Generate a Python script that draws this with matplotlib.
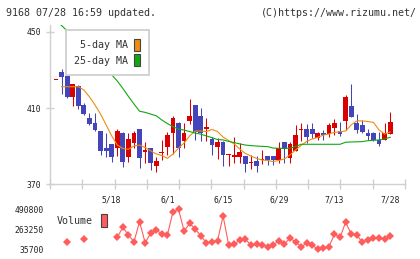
import numpy as np
import matplotlib
matplotlib.use("Agg")
import matplotlib.pyplot as plt
from matplotlib.patches import Patch

# daily candles, 61 trading days (index 0..60)
opens = [424.5, 428.9, 426.8, 415.6, 421.6, 411.6, 404.7, 402.2, 397.9, 389.0,
         391.0, 388.8, 396.8, 384.4, 391.4, 398.8, 386.7, 388.9, 379.6, 386.2,
         389.6, 396.7, 402.3, 392.8, 403.2, 411.6, 405.8, 399.1, 393.9, 389.6,
         392.3, 385.4, 384.2, 384.4, 384.7, 381.0, 382.3, 382.6, 384.7, 384.7,
         382.6, 392.2, 383.5, 387.6, 398.4, 398.8, 398.8, 394.4, 397.0, 396.3,
         399.6, 397.9, 403.3, 411.1, 402.3, 401.1, 397.0, 397.0, 393.2, 393.2,
         396.3]
closes = [424.6, 426.3, 415.6, 422.6, 410.9, 406.7, 401.6, 398.6, 387.5, 387.4,
          384.4, 397.9, 381.7, 393.7, 396.7, 383.5, 388.0, 381.1, 382.3, 386.8,
          395.8, 404.6, 388.8, 397.0, 405.9, 397.5, 396.7, 399.8, 390.5, 392.3,
          385.3, 385.8, 385.5, 387.0, 380.7, 381.4, 379.6, 383.1, 382.6, 382.6,
          388.8, 388.6, 390.9, 395.8, 398.9, 394.5, 396.5, 397.0, 395.6, 401.1,
          402.3, 396.3, 416.0, 405.4, 398.4, 397.5, 395.4, 393.2, 390.9, 396.7,
          402.5]
highs = [424.6, 430.4, 427.0, 422.6, 421.9, 412.8, 407.4, 407.4, 398.0, 396.8,
         391.3, 398.9, 397.2, 396.7, 398.0, 399.0, 392.3, 389.0, 384.4, 393.2,
         397.5, 405.8, 402.5, 402.3, 414.7, 411.8, 410.2, 405.0, 395.0, 394.0,
         392.5, 385.8, 394.7, 391.7, 384.9, 385.5, 384.5, 387.9, 385.0, 385.0,
         392.3, 392.3, 392.3, 401.1, 402.1, 401.5, 402.3, 397.5, 398.4, 401.9,
         404.0, 402.8, 416.8, 422.6, 406.8, 403.7, 398.8, 397.5, 397.5, 401.9,
         407.7]
lows = [424.5, 417.4, 415.4, 411.2, 409.6, 406.2, 400.9, 397.9, 385.3, 384.4,
        381.7, 385.0, 378.7, 381.7, 388.8, 378.3, 380.9, 377.4, 376.5, 382.6,
        385.3, 385.8, 384.4, 388.8, 401.7, 393.2, 392.8, 392.8, 385.3, 383.2,
        379.6, 379.6, 381.0, 380.9, 376.5, 377.8, 376.5, 380.7, 379.8, 379.8,
        380.9, 380.9, 380.9, 387.2, 392.8, 391.6, 394.0, 393.2, 393.2, 394.7,
        395.8, 395.3, 398.4, 405.4, 396.7, 396.7, 393.2, 392.8, 390.0, 393.2,
        396.3]

nan = np.nan
ma5 = [nan, 421.2, 421.2, 421.2, 421.2, 419.5, 415.9, 411.6, 406.8, 401.1,
       395.3, 390.5, 388.7, 388.3, 390.0, 390.5, 389.2, 387.4, 385.8, 385.0,
       383.5, 385.8, 388.9, 391.6, 395.3, 397.9, 397.9, 397.6, 398.7, 397.6,
       394.7, 392.9, 391.1, 388.4, 386.1, 384.7, 383.5, 382.6, 382.4, 381.8,
       382.4, 383.2, 385.3, 387.9, 390.3, 392.4, 393.7, 394.5, 395.8, 396.3,
       397.2, 397.5, 397.9, 401.1, 403.2, 403.2, 402.9, 402.4, 398.4, 396.3,
       397.4]
ma25 = [456.5, 453.4, 450.6, 447.8, 444.9, 442.0, 439.0, 436.0, 433.0, 430.5,
        427.5, 424.2, 420.3, 416.1, 412.1, 408.3, 407.7, 406.8, 405.9, 403.7,
        401.8, 400.2, 398.9, 398.4, 397.6, 396.8, 396.2, 395.3, 394.4, 393.4,
        393.2, 392.4, 391.8, 391.1, 390.5, 390.2, 390.0, 389.8, 389.7, 388.9,
        388.8, 388.8, 388.8, 389.7, 390.9, 390.9, 390.9, 390.9, 390.9, 390.9,
        390.9, 390.9, 392.0, 392.1, 392.2, 392.3, 392.8, 393.0, 393.2, 393.7,
        394.6]
volumes = [nan, nan, 115000, nan, nan, 149000, nan, nan, nan, nan,
           nan, 172000, 286000, 198000, 122000, 350000, 111000, 218000, 255000, 210000,
           198000, 463000, 490000, 244000, 330000, 266000, 187000, 111000, 115000, 134000,
           414000, 85000, 92000, 142000, 149000, 85000, 96000, 85000, 65000, 85000,
           134000, 96000, 161000, 122000, 65000, 104000, 85000, 36000, 47000, 65000,
           206000, 172000, 343000, 210000, 198000, 115000, 142000, 161000, 161000, 149000,
           187000]

date_pos = [10, 20, 30, 40, 50, 60]
date_labels = ["5/18", "6/1", "6/15", "6/29", "7/13", "7/28"]
price_ticks = [370, 410, 450]
vol_ticks = [35700, 263250, 490800]

UP = "#d80000"
DOWN = "#4444bb"
ORANGE = "#f08c10"
GREEN = "#10a810"
VOLC = "#ff5c5c"
GRAY = "#d0d0d0"
FONT = "DejaVu Sans Mono"

W, H = 420, 259
fig = plt.figure(figsize=(W / 100, H / 100), dpi=100)

x0, x1 = 50, 405
xlim = (-1.08, 62.66)

# price panel
ax = fig.add_axes([x0 / W, (H - 184) / H, (x1 - x0) / W, (184 - 25) / H])
ax.set_xlim(*xlim)
ax.set_ylim(370, 370 + 159 / 1.9)

idx = np.arange(len(opens))
o = np.array(opens); c = np.array(closes)
colors = [UP if cc >= oo else DOWN for oo, cc in zip(o, c)]
ax.vlines(idx, lows, highs, colors=colors, linewidth=0.75, zorder=2)
bottoms = np.minimum(o, c)
heights = np.maximum(np.abs(c - o), 0.55)
ax.bar(idx, heights, bottom=bottoms, width=0.85, color=colors, linewidth=0, zorder=3)

ax.plot(idx, ma5, color=ORANGE, lw=0.8, zorder=4)
ax.plot(idx, ma25, color=GREEN, lw=0.8, zorder=4)

for s in ["top", "right"]:
    ax.spines[s].set_visible(False)
for s in ["left", "bottom"]:
    ax.spines[s].set_color(GRAY)
    ax.spines[s].set_linewidth(1)

ax.set_yticks(price_ticks)
ax.tick_params(axis="y", direction="inout", length=6, width=1, color=GRAY,
               labelsize=5.8, labelcolor="#222", pad=3.5)
for t in ax.get_yticklabels():
    t.set_fontfamily(FONT)

ax.set_xticks(np.linspace(xlim[0], xlim[1], 12))
ax.set_xticklabels([])
ax.tick_params(axis="x", which="major", direction="inout", length=7, width=1, color=GRAY)
ax.set_xticks(date_pos, minor=True)
ax.set_xticklabels(date_labels, minor=True)
ax.tick_params(axis="x", which="minor", length=0, labelsize=5.8, labelcolor="#222", pad=8)
for t in ax.get_xticklabels(minor=True):
    t.set_fontfamily(FONT)

leg = ax.legend(handles=[Patch(facecolor=ORANGE, edgecolor="#444", lw=0.8),
                         Patch(facecolor=GREEN, edgecolor="#444", lw=0.8)],
                labels=["5-day MA", "25-day MA"],
                loc="upper left", bbox_to_anchor=(65.7 / W, 1 - 30 / H),
                bbox_transform=fig.transFigure, borderaxespad=0,
                markerfirst=False, handlelength=0.6, handleheight=1.5,
                handletextpad=0.6, labelspacing=0.35, borderpad=0.85,
                fancybox=False, framealpha=1, edgecolor="#cccccc",
                prop={"family": FONT, "size": 7.2})
leg.get_frame().set_linewidth(1.2)
for t in leg.get_texts():
    t.set_color("#333")

# volume panel
av = fig.add_axes([x0 / W, (H - 249.3) / H, (x1 - x0) / W, 40 / H])
av.set_xlim(*xlim)
av.set_ylim(35700, 490800)
av.plot(idx, volumes, color=VOLC, lw=0.8, marker="D", markersize=4.2,
        markeredgewidth=0, clip_on=False)
for s in av.spines.values():
    s.set_visible(False)
av.set_xticks([])
av.set_yticks(vol_ticks)
av.set_yticklabels([str(v) for v in vol_ticks])
av.tick_params(axis="y", length=0, labelsize=5.8, labelcolor="#222", pad=4.3)
for t in av.get_yticklabels():
    t.set_fontfamily(FONT)

vleg = av.legend(handles=[Patch(facecolor=VOLC, edgecolor="#444", lw=0.8)],
                 labels=["Volume"], loc="center left",
                 bbox_to_anchor=(54 / W, 1 - 220.5 / H),
                 bbox_transform=fig.transFigure, borderaxespad=0,
                 markerfirst=False, handlelength=0.6, handleheight=1.5,
                 handletextpad=0.75, borderpad=0.3, frameon=False,
                 prop={"family": FONT, "size": 7.2})
for t in vleg.get_texts():
    t.set_color("#333")

fig.text(6.5 / W, 1 - 13 / H, "9168 07/28 16:59 updated.", fontsize=7.2,
         family=FONT, color="#333", va="center", ha="left")
fig.text(416.5 / W, 1 - 13 / H, "(C)https://www.rizumu.net/", fontsize=7.2,
         family=FONT, color="#333", va="center", ha="right")

fig.savefig("out.png", dpi=100)
